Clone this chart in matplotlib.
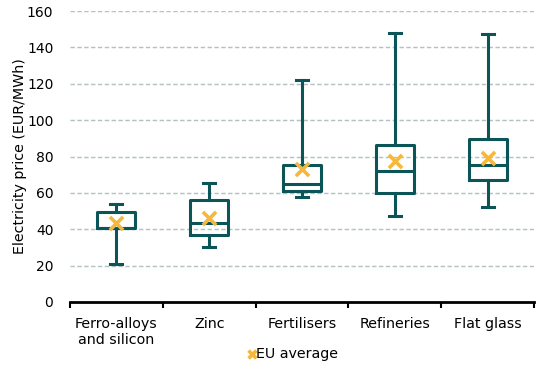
import matplotlib
matplotlib.use("Agg")
import matplotlib.pyplot as plt
import numpy as np

categories = ["Ferro-alloys\nand silicon", "Zinc", "Fertilisers", "Refineries", "Flat glass"]
whisker_low = [20.8, 30.2, 57.7, 47.2, 52.0]
q1 = [40.7, 36.8, 61.0, 60.0, 67.0]
median = [40.7, 43.4, 64.8, 72.0, 75.3]
q3 = [49.5, 56.0, 75.3, 86.2, 89.5]
whisker_high = [53.8, 65.4, 122.0, 147.8, 147.2]
eu_average = [43.5, 46.0, 73.0, 77.5, 79.0]
y_ticks = [0, 20, 40, 60, 80, 100, 120, 140, 160]

plt.rcParams['font.family'] = ['DejaVu Sans']
teal = "#0B5457"
orange = "#F5B83D"

fig = plt.figure(figsize=(5.4, 3.71), dpi=100)
ax = fig.add_axes([0.1296, 0.186, 0.8594, 0.784])

stats = []
for i in range(len(categories)):
    stats.append(dict(whislo=whisker_low[i], q1=q1[i], med=median[i], q3=q3[i],
                      whishi=whisker_high[i], label=categories[i]))
pos = np.arange(len(categories))
ax.bxp(stats, positions=pos, widths=0.41, showfliers=False,
       boxprops=dict(color=teal, linewidth=2.2),
       medianprops=dict(color=teal, linewidth=2.2),
       whiskerprops=dict(color=teal, linewidth=2.2),
       capprops=dict(color=teal, linewidth=2.2),
       capwidths=0.13)
ax.scatter(pos, eu_average, marker='x', s=90, color=orange, linewidths=2.6, zorder=5,
           label="EU average")

ax.set_xlim(-0.5, len(categories) - 0.5)
ax.set_ylim(0, 160)
ax.set_yticks(y_ticks)
ax.yaxis.grid(True, linestyle=(0, (3.0, 1.7)), color="#B3C3C3", linewidth=1.05)
ax.set_axisbelow(True)
for g in ax.get_ygridlines()[:1]:
    g.set_visible(False)

ax.set_xticks(pos)
ax.set_xticklabels(categories, fontsize=10.3, linespacing=1.2)
ax.tick_params(axis='x', which='major', length=0, pad=11)
ax.set_xticks(np.arange(-0.5, len(categories)), minor=True)
ax.tick_params(axis='x', which='minor', length=4, width=1.5, color='black')
ax.tick_params(axis='y', length=0, labelsize=10, pad=12)

for s in ['top', 'right', 'left']:
    ax.spines[s].set_visible(False)
ax.spines['bottom'].set_linewidth(2)
ax.spines['bottom'].set_color('black')

ax.set_ylabel("Electricity price (EUR/MWh)", fontsize=10.3, labelpad=0)

fig.legend(loc='center', bbox_to_anchor=(0.54, 0.046), frameon=False, fontsize=10.3,
           handletextpad=-0.2, markerscale=0.6, handlelength=1.0)

fig.savefig("out.png", dpi=100)
